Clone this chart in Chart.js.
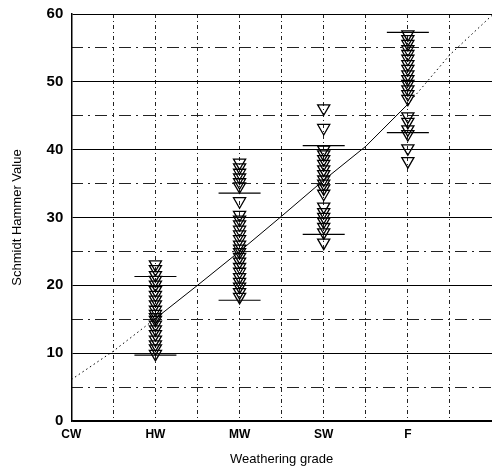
<!DOCTYPE html>
<html>
<head>
<meta charset="utf-8">
<script src="https://cdn.jsdelivr.net/npm/chart.js@4"></script>
<style>
  html, body { margin: 0; padding: 0; background: #fff; }
  #wrap { width: 492px; height: 467px; position: relative; }
</style>
</head>
<body>
<div id="wrap"><canvas id="myChart"></canvas></div>
<script>
// weathering grades along the x axis (position = index)
const categories = ['CW', 'HW', 'MW', 'SW', 'F'];

// Schmidt hammer readings per grade
const hwValues = [23.1, 22.4, 21.5, 20.8, 20.1, 19.3, 18.6, 17.9, 17.2, 16.4, 15.8, 15.3, 14.9, 14.2, 13.5, 12.8, 12.0, 11.3, 10.7, 9.9];
const mwValues = [38.1, 37.4, 36.6, 35.9, 35.2, 34.6, 32.4, 30.4, 29.7, 29.0, 28.2, 27.5, 26.8, 26.0, 25.4, 24.9, 24.2, 23.5, 22.7, 22.0, 21.2, 20.5, 19.8, 19.0, 18.3];
const swValues = [46.1, 43.2, 40.0, 39.3, 38.6, 37.9, 37.1, 36.4, 35.6, 35.0, 34.3, 33.5, 31.6, 30.8, 30.1, 29.4, 28.6, 27.8, 26.3];
const fValues = [57.0, 56.3, 55.6, 54.8, 54.1, 53.4, 52.6, 51.9, 51.1, 50.4, 49.7, 48.9, 48.2, 47.5, 44.9, 44.1, 43.0, 42.3, 40.2, 38.3];

// range bars (upper / lower) for HW, MW, SW, F
const barGrades = ['HW', 'MW', 'SW', 'F'];
const upperBars = [21.3, 33.6, 40.6, 57.3];
const lowerBars = [9.7, 17.8, 27.5, 42.5];

// trend curve
const fitX = [0, 0.5, 1, 1.5, 2, 2.5, 3, 3.5, 4, 4.5, 5];
const fitY = [6.1, 10.3, 15.1, 20.0, 25.0, 30.2, 35.5, 40.5, 46.7, 54.0, 59.8];

// y ticks
const majorTicks = [0, 10, 20, 30, 40, 50, 60];
const minorTicks = [5, 15, 25, 35, 45, 55];

const solidFrom = 1, solidTo = 4;

function column(grade, values) {
  const xi = categories.indexOf(grade);
  return values.map(v => ({ x: xi, y: v }));
}

let readings = [].concat(
  column('HW', hwValues),
  column('MW', mwValues),
  column('SW', swValues),
  column('F', fValues)
);

let bars = [];
barGrades.forEach(function(g, i) {
  const xi = categories.indexOf(g);
  bars.push({ x: xi, y: upperBars[i] });
  bars.push({ x: xi, y: lowerBars[i] });
});

let fit = fitX.map((x, i) => ({ x: x, y: fitY[i] }));

const config = {
  type: 'scatter',
  data: {
    datasets: [{
      label: 'trend',
      data: fit,
      showLine: true,
      borderColor: '#000',
      borderWidth: 1,
      pointRadius: 0,
      segment: {
        borderDash: ctx => (ctx.p0.parsed.x < solidFrom || ctx.p1.parsed.x > solidTo) ? [1.5, 3] : undefined
      }
    }, {
      label: 'range',
      data: bars,
      pointStyle: 'line',
      pointRadius: 21,
      borderColor: '#000',
      borderWidth: 1.2
    }, {
      label: 'readings',
      data: readings,
      pointStyle: 'triangle',
      rotation: 180,
      pointRadius: 7,
      borderColor: '#000',
      borderWidth: 1.3,
      backgroundColor: 'rgba(0,0,0,0)'
    }]
  },
  options: {
    responsive: true,
    maintainAspectRatio: false,
    animation: false,
    layout: { autoPadding: false, padding: { top: 14, right: 0, left: 10, bottom: 0 } },
    plugins: { legend: { display: false }, tooltip: { enabled: false } },
    scales: {
      x: {
        type: 'linear',
        min: 0,
        max: 5,
        afterFit: s => { s.paddingRight = 0; },
        ticks: {
          stepSize: 0.5,
          autoSkip: false,
          maxRotation: 0,
          padding: 6,
          color: '#000',
          font: { family: 'Liberation Sans', size: 12, weight: 'bold' },
          callback: v => Number.isInteger(v) && categories[v] ? categories[v] : ''
        },
        grid: { color: '#222', lineWidth: 1, drawTicks: false },
        border: { display: true, color: '#000', width: 1.5, dash: [4, 3, 1, 3] },
        title: {
          display: true,
          text: 'Weathering grade',
          color: '#000',
          padding: { top: 4, bottom: 0 },
          font: { family: 'Liberation Sans', size: 13 }
        }
      },
      y: {
        min: 0,
        max: 60,
        afterBuildTicks: axis => { axis.ticks = majorTicks.map(v => ({ value: v })); },
        afterFit: s => { s.paddingTop = 0; },
        ticks: {
          padding: 8,
          color: '#000',
          font: { family: 'Liberation Sans', size: 15, weight: 'bold' }
        },
        grid: { color: '#000', lineWidth: 1, drawTicks: false },
        border: { display: true, color: '#000', width: 1.5 },
        title: {
          display: true,
          text: 'Schmidt Hammer Value',
          color: '#000',
          padding: { top: 0, bottom: 13 },
          font: { family: 'Liberation Sans', size: 13 }
        }
      },
      y2: {
        position: 'left',
        min: 0,
        max: 60,
        afterBuildTicks: axis => { axis.ticks = minorTicks.map(v => ({ value: v })); },
        ticks: { display: false },
        grid: { color: '#222', lineWidth: 1, drawTicks: false },
        border: { display: false, dash: [12, 5, 2, 5] }
      }
    }
  }
};

let chart = new Chart('myChart', config);
</script>
</body>
</html>
